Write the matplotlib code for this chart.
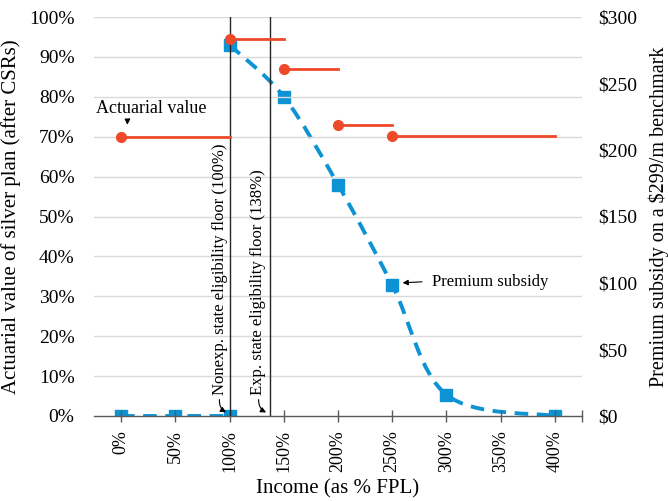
import numpy as np
import matplotlib
matplotlib.use("Agg")
import matplotlib.pyplot as plt
from matplotlib.path import Path
from matplotlib.patches import PathPatch

plt.rcParams['font.family'] = ['Liberation Serif', 'DejaVu Serif']

# ---- data ----
income_ticks = [0, 50, 100, 150, 200, 250, 300, 350, 400]
tick_labels = ["0%", "50%", "100%", "150%", "200%", "250%", "300%", "350%", "400%"]

av_start = [0, 100, 150, 200, 250]
av_end = [100, 150, 200, 250, 400]
av_value = [70.0, 94.5, 87.0, 73.0, 70.2]

sub_low_x = [0, 50, 100]
sub_low_y = [0, 0, 0]
sub_x = [100, 150, 200, 250, 300, 400]
sub_y = [279, 240, 174, 98.5, 16, 0]

floor_nonexp = 100
floor_exp = 137

RED = '#EE4A2A'
BLUE = '#0D93D4'

fig = plt.figure(figsize=(6.68, 5.01), dpi=100)
ax = fig.add_axes([94/668, 1-416/501, (582-94)/668, (416-17)/501])
ax2 = ax.twinx()

ax.set_xlim(-25, 425)
ax.set_ylim(0, 100)
ax2.set_ylim(0, 300)

# gridlines
for v in range(10, 101, 10):
    ax.axhline(v, color='#D9D9D9', lw=1.0, zorder=0)

# spines
for a in (ax, ax2):
    for s in ('left', 'right', 'top'):
        a.spines[s].set_visible(False)
ax.spines['bottom'].set_color('#595959')
ax.spines['bottom'].set_linewidth(1.0)
ax2.spines['bottom'].set_visible(False)

# x ticks
ax.set_xticks(income_ticks + [425])
ax.set_xticklabels(tick_labels + [""], rotation=90, fontsize=13)
ax.tick_params(axis='x', direction='inout', length=8, color='#595959', width=1, pad=6)

# left y ticks
ax.set_yticks(range(0, 101, 10))
ax.set_yticklabels([f"{v}%" for v in range(0, 101, 10)], fontsize=14)
ax.tick_params(axis='y', length=0, pad=14)

ax2.set_yticks(range(0, 301, 50))
ax2.set_yticklabels([f"${v}" for v in range(0, 301, 50)], fontsize=14)
ax2.tick_params(axis='y', length=0, pad=12)

ax.set_xlabel("Income (as % FPL)", fontsize=15, labelpad=5)
ax.set_ylabel("Actuarial value of silver plan (after CSRs)", fontsize=15, labelpad=6)
ax2.set_ylabel("Premium subsidy on a \\$299/m benchmark", fontsize=14.5, labelpad=8)

# vertical floor lines
ax.plot([floor_nonexp, floor_nonexp], [0, 100], color='#262626', lw=1.0, zorder=3)
ax.plot([floor_exp, floor_exp], [0, 100], color='#262626', lw=1.0, zorder=3)

# actuarial value steps
for s, e, v in zip(av_start, av_end, av_value):
    ax.plot([s, e], [v, v], color=RED, lw=2.0, zorder=4)
    ax.plot([s], [v], 'o', color=RED, ms=7, zorder=5)

# premium subsidy: low segment
ax2.plot(sub_low_x, sub_low_y, color=BLUE, lw=2.8, dashes=(3.5, 2.2), zorder=6)
ax2.plot(sub_low_x, sub_low_y, 's', color=BLUE, ms=9, zorder=7)

# smoothed curve (Excel-style Bezier smoothing through the points)
pts = np.column_stack([sub_x, sub_y]).astype(float)
verts = [tuple(pts[0])]
codes = [Path.MOVETO]
n = len(pts)
for i in range(n - 1):
    p0 = pts[i - 1] if i > 0 else pts[i]
    p1 = pts[i]
    p2 = pts[i + 1]
    p3 = pts[i + 2] if i + 2 < n else pts[i + 1]
    c1 = p1 + (p2 - p0) / 6.0
    c2 = p2 - (p3 - p1) / 6.0
    verts += [tuple(c1), tuple(c2), tuple(p2)]
    codes += [Path.CURVE4] * 3
patch = PathPatch(Path(verts, codes), facecolor='none', edgecolor=BLUE, lw=2.8,
                  linestyle=(0, (3.5, 2.2)), zorder=6)
ax2.add_patch(patch)
ax2.plot(sub_x, sub_y, 's', color=BLUE, ms=9, zorder=7)

# annotations
ax.text(28, 77, "Actuarial value", fontsize=13, ha='center', va='center', zorder=8)
ax.annotate("", xy=(6, 72.3), xytext=(9.5, 75),
            arrowprops=dict(arrowstyle='-|>', color='black', lw=0.8,
                            mutation_scale=8, connectionstyle='arc3,rad=0.3'))

ax2.text(287, 100.5, "Premium subsidy", fontsize=12, ha='left', va='center', zorder=8)
ax2.annotate("", xy=(257, 100), xytext=(280, 101),
             arrowprops=dict(arrowstyle='-|>', color='black', lw=0.8,
                             mutation_scale=8))

ax.text(91, 5.2, "Nonexp. state eligibility floor (100%)", rotation=90, fontsize=12,
        ha='center', va='bottom', zorder=8)
ax.text(126.5, 5.2, "Exp. state eligibility floor (138%)", rotation=90, fontsize=12,
        ha='center', va='bottom', zorder=8)
ax.annotate("", xy=(99, 0.6), xytext=(91, 4.8),
            arrowprops=dict(arrowstyle='-|>', color='black', lw=0.8,
                            mutation_scale=8, connectionstyle='arc3,rad=0.4'))
ax.annotate("", xy=(136, 0.6), xytext=(127, 4.8),
            arrowprops=dict(arrowstyle='-|>', color='black', lw=0.8,
                            mutation_scale=8, connectionstyle='arc3,rad=0.4'))

ax.set_zorder(ax2.get_zorder() + 1)
ax.patch.set_visible(False)

fig.savefig("out.png", dpi=100)
